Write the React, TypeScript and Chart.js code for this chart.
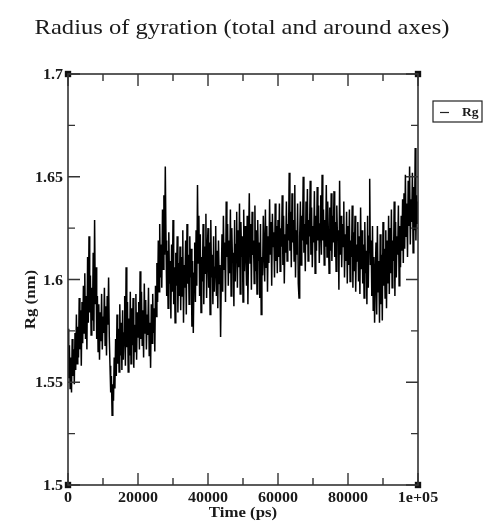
import React, { useEffect, useRef } from 'react';
import { Chart, registerables } from 'chart.js';

Chart.register(...registerables);

const TITLE = 'Radius of gyration (total and around axes)';
const X_LABEL = 'Time (ps)';
const Y_LABEL = 'Rg (nm)';
const SERIES_NAME = 'Rg';
const SAMPLE_STEP_PS = 200;

// Rg (nm), one value every 200 ps from 0 to 100000 ps
const rgValues: number[] = [
  1.576, 1.552, 1.568, 1.547, 1.562, 1.545, 1.571, 1.553, 1.566, 1.549, 1.574, 1.556, 1.583, 1.559, 1.577, 1.562, 1.591, 1.566, 1.585, 1.558,
  1.589, 1.569, 1.597, 1.574, 1.603, 1.571, 1.592, 1.566, 1.611, 1.579, 1.621, 1.584, 1.602, 1.573, 1.596, 1.580, 1.613, 1.575, 1.629, 1.588,
  1.606, 1.571, 1.592, 1.565, 1.588, 1.561, 1.584, 1.570, 1.593, 1.566, 1.582, 1.574, 1.596, 1.568, 1.587, 1.563, 1.592, 1.578, 1.601, 1.572,
  1.558, 1.545, 1.553, 1.534, 1.549, 1.541, 1.562, 1.547, 1.571, 1.553, 1.583, 1.559, 1.576, 1.555, 1.588, 1.563, 1.579, 1.556, 1.585, 1.561,
  1.574, 1.592, 1.558, 1.606, 1.567, 1.589, 1.555, 1.581, 1.563, 1.594, 1.559, 1.586, 1.568, 1.591, 1.557, 1.578, 1.565, 1.593, 1.561, 1.584,
  1.572, 1.589, 1.566, 1.604, 1.571, 1.594, 1.568, 1.585, 1.562, 1.598, 1.574, 1.590, 1.566, 1.583, 1.573, 1.596, 1.563, 1.579, 1.557, 1.588,
  1.569, 1.593, 1.574, 1.586, 1.565, 1.597, 1.582, 1.608, 1.589, 1.619, 1.594, 1.627, 1.601, 1.617, 1.596, 1.634, 1.605, 1.641, 1.612, 1.655,
  1.619, 1.592, 1.614, 1.586, 1.623, 1.598, 1.609, 1.581, 1.617, 1.594, 1.629, 1.588, 1.606, 1.579, 1.613, 1.597, 1.621, 1.584, 1.608, 1.592,
  1.616, 1.585, 1.611, 1.592, 1.624, 1.579, 1.607, 1.596, 1.619, 1.583, 1.627, 1.598, 1.612, 1.588, 1.621, 1.601, 1.615, 1.577, 1.609, 1.574,
  1.603, 1.618, 1.589, 1.624, 1.597, 1.646, 1.608, 1.631, 1.592, 1.622, 1.584, 1.611, 1.599, 1.627, 1.588, 1.616, 1.603, 1.632, 1.591, 1.614,
  1.625, 1.596, 1.618, 1.583, 1.629, 1.601, 1.612, 1.588, 1.621, 1.594, 1.606, 1.626, 1.592, 1.614, 1.586, 1.619, 1.598, 1.607, 1.572, 1.601,
  1.622, 1.594, 1.631, 1.605, 1.618, 1.589, 1.638, 1.611, 1.627, 1.597, 1.619, 1.603, 1.634, 1.592, 1.625, 1.608, 1.613, 1.587, 1.629, 1.599,
  1.617, 1.633, 1.596, 1.624, 1.606, 1.637, 1.593, 1.628, 1.611, 1.621, 1.589, 1.634, 1.604, 1.626, 1.614, 1.597, 1.631, 1.588, 1.619, 1.642,
  1.608, 1.627, 1.595, 1.633, 1.612, 1.619, 1.598, 1.636, 1.604, 1.624, 1.593, 1.629, 1.609, 1.618, 1.591, 1.627, 1.583, 1.611, 1.602, 1.631,
  1.615, 1.599, 1.634, 1.606, 1.626, 1.594, 1.621, 1.608, 1.639, 1.612, 1.628, 1.597, 1.632, 1.616, 1.623, 1.601, 1.637, 1.609, 1.626, 1.603,
  1.629, 1.611, 1.637, 1.604, 1.625, 1.616, 1.641, 1.607, 1.631, 1.598, 1.622, 1.613, 1.638, 1.609, 1.627, 1.619, 1.652, 1.614, 1.633, 1.606,
  1.642, 1.618, 1.629, 1.609, 1.646, 1.601, 1.624, 1.612, 1.637, 1.598, 1.591, 1.621, 1.638, 1.607, 1.631, 1.619, 1.650, 1.613, 1.627, 1.604,
  1.638, 1.617, 1.644, 1.609, 1.629, 1.621, 1.648, 1.612, 1.635, 1.606, 1.626, 1.618, 1.643, 1.603, 1.631, 1.614, 1.645, 1.619, 1.636, 1.608,
  1.627, 1.641, 1.612, 1.651, 1.619, 1.634, 1.607, 1.629, 1.616, 1.646, 1.611, 1.638, 1.622, 1.603, 1.635, 1.614, 1.642, 1.609, 1.631, 1.618,
  1.643, 1.611, 1.628, 1.604, 1.636, 1.619, 1.624, 1.595, 1.648, 1.612, 1.631, 1.606, 1.627, 1.616, 1.638, 1.601, 1.622, 1.609, 1.633, 1.598,
  1.626, 1.607, 1.634, 1.599, 1.619, 1.611, 1.636, 1.596, 1.623, 1.604, 1.631, 1.594, 1.617, 1.609, 1.628, 1.599, 1.621, 1.593, 1.635, 1.605,
  1.624, 1.598, 1.617, 1.591, 1.628, 1.603, 1.614, 1.588, 1.631, 1.596, 1.621, 1.649, 1.607, 1.619, 1.592, 1.626, 1.585, 1.611, 1.579, 1.603,
  1.618, 1.583, 1.626, 1.594, 1.609, 1.579, 1.622, 1.588, 1.612, 1.580, 1.628, 1.597, 1.615, 1.591, 1.624, 1.586, 1.619, 1.598, 1.631, 1.593,
  1.625, 1.603, 1.634, 1.596, 1.619, 1.609, 1.638, 1.592, 1.628, 1.601, 1.621, 1.612, 1.636, 1.597, 1.626, 1.606, 1.631, 1.614, 1.639, 1.608,
  1.642, 1.615, 1.651, 1.621, 1.637, 1.611, 1.648, 1.626, 1.655, 1.617, 1.639, 1.628, 1.652, 1.613, 1.645, 1.624, 1.664, 1.619, 1.641, 1.627,
  1.638,
];

const X_MIN = 0;
const X_MAX = 100000;
const X_STEP = 20000;
const Y_MIN = 1.5;
const Y_MAX = 1.7;
const Y_STEP = 0.05;

const cornerPoints = [
  { x: X_MIN, y: Y_MIN },
  { x: X_MIN, y: Y_MAX },
  { x: X_MAX, y: Y_MIN },
  { x: X_MAX, y: Y_MAX },
];

const FONT = '"Liberation Serif", "Times New Roman", serif';
const INK = '#1a1a1a';

function drawText(
  ctx: CanvasRenderingContext2D,
  text: string,
  x: number,
  y: number,
  font: string,
  sx: number,
  align: CanvasTextAlign,
  baseline: CanvasTextBaseline,
  rotation = 0,
) {
  ctx.save();
  ctx.translate(x, y);
  if (rotation) ctx.rotate(rotation);
  ctx.scale(sx, 1);
  ctx.font = font;
  ctx.fillStyle = INK;
  ctx.textAlign = align;
  ctx.textBaseline = baseline;
  ctx.fillText(text, 0, 0);
  ctx.restore();
}

const framePlugin = {
  id: 'graceFrame',
  afterDatasetsDraw(chart: any) {
    const { ctx, chartArea } = chart;
    const { left, right, top, bottom } = chartArea;
    const xs = chart.scales.x;
    const ys = chart.scales.y;
    ctx.save();
    ctx.strokeStyle = '#333';
    ctx.lineWidth = 1.6;
    ctx.strokeRect(left, top, right - left, bottom - top);
    ctx.lineWidth = 1.4;
    const major = 12;
    const minor = 7;
    const xt = xs.ticks.map((t: any) => t.value);
    const yt = ys.ticks.map((t: any) => t.value);
    ctx.beginPath();
    xt.forEach((v: number, i: number) => {
      const p = xs.getPixelForValue(v);
      ctx.moveTo(p, bottom); ctx.lineTo(p, bottom - major);
      ctx.moveTo(p, top); ctx.lineTo(p, top + major);
      if (i < xt.length - 1) {
        const m = xs.getPixelForValue((v + xt[i + 1]) / 2);
        ctx.moveTo(m, bottom); ctx.lineTo(m, bottom - minor);
        ctx.moveTo(m, top); ctx.lineTo(m, top + minor);
      }
    });
    yt.forEach((v: number, i: number) => {
      const p = ys.getPixelForValue(v);
      ctx.moveTo(left, p); ctx.lineTo(left + major, p);
      ctx.moveTo(right, p); ctx.lineTo(right - major, p);
      if (i < yt.length - 1) {
        const m = ys.getPixelForValue((v + yt[i + 1]) / 2);
        ctx.moveTo(left, m); ctx.lineTo(left + minor, m);
        ctx.moveTo(right, m); ctx.lineTo(right - minor, m);
      }
    });
    ctx.stroke();
    ctx.restore();
  },
};

const textPlugin = {
  id: 'graceText',
  afterDraw(chart: any) {
    const { ctx, chartArea } = chart;
    const { left, right, top, bottom } = chartArea;
    const xs = chart.scales.x;
    const ys = chart.scales.y;
    const cx = (left + right) / 2;
    const cy = (top + bottom) / 2;

    drawText(ctx, TITLE, cx - 1, 34, `normal 21px ${FONT}`, 1.17, 'center', 'alphabetic');

    const tickFont = `bold 15px ${FONT}`;
    xs.ticks.forEach((t: any) => {
      drawText(ctx, String(t.label), xs.getPixelForValue(t.value), bottom + 17, tickFont, 1.07, 'center', 'alphabetic');
    });
    ys.ticks.forEach((t: any) => {
      drawText(ctx, String(t.label), left - 5, ys.getPixelForValue(t.value) + 5, tickFont, 1.07, 'right', 'alphabetic');
    });

    const labelFont = `bold 15px ${FONT}`;
    drawText(ctx, X_LABEL, cx, bottom + 32, labelFont, 1.12, 'center', 'alphabetic');
    drawText(ctx, Y_LABEL, 35, cy + 20, labelFont, 1.12, 'center', 'alphabetic', -Math.PI / 2);

    const bx = right + 15;
    const by = top + 27;
    const bw = 49;
    const bh = 21;
    ctx.save();
    ctx.strokeStyle = '#222';
    ctx.lineWidth = 1.2;
    ctx.strokeRect(bx, by, bw, bh);
    ctx.beginPath();
    ctx.moveTo(bx + 7, by + bh / 2 + 1);
    ctx.lineTo(bx + 16, by + bh / 2 + 1);
    ctx.stroke();
    ctx.restore();
    drawText(ctx, SERIES_NAME, bx + 29, by + bh / 2 + 4, `bold 13px ${FONT}`, 1.05, 'left', 'alphabetic');
  },
};

export default function App() {
  const ref = useRef<HTMLCanvasElement | null>(null);

  useEffect(() => {
    if (!ref.current) return;
    const data = rgValues.map((v, i) => ({ x: i * SAMPLE_STEP_PS, y: v }));
    const chart = new Chart(ref.current, {
      type: 'line',
      data: {
        datasets: [
          {
            label: SERIES_NAME,
            data,
            borderColor: '#000',
            borderWidth: 1.5,
            pointRadius: 0,
            tension: 0,
          },
          {
            label: 'corners',
            data: cornerPoints,
            showLine: false,
            pointStyle: 'rect',
            pointRadius: 4.5,
            backgroundColor: '#111',
            borderColor: '#111',
            borderWidth: 0,
            clip: false,
          } as any,
        ],
      },
      options: {
        animation: false,
        responsive: true,
        maintainAspectRatio: false,
        layout: { padding: { left: 0, right: 72, top: 74, bottom: 0 } },
        plugins: {
          legend: { display: false },
          tooltip: { enabled: false },
          title: { display: false },
        },
        scales: {
          x: {
            type: 'linear',
            min: X_MIN,
            max: X_MAX,
            border: { display: false },
            grid: { display: false, drawTicks: false },
            ticks: {
              display: false,
              stepSize: X_STEP,
              callback: (v: any) => (Number(v) === X_MAX ? '1e+05' : String(v)),
            },
            afterFit: (s: any) => { s.height = 37; },
          },
          y: {
            type: 'linear',
            min: Y_MIN,
            max: Y_MAX,
            border: { display: false },
            grid: { display: false, drawTicks: false },
            ticks: {
              display: false,
              stepSize: Y_STEP,
              callback: (v: any) => String(Number(Number(v).toFixed(2))),
            },
            afterFit: (s: any) => { s.width = 68; },
          },
        },
      },
      plugins: [framePlugin, textPlugin],
    });
    return () => chart.destroy();
  }, []);

  return (
    <div style={{ position: 'absolute', left: 0, top: 0, width: 490, height: 522, background: '#fff' }}>
      <canvas ref={ref} />
    </div>
  );
}
